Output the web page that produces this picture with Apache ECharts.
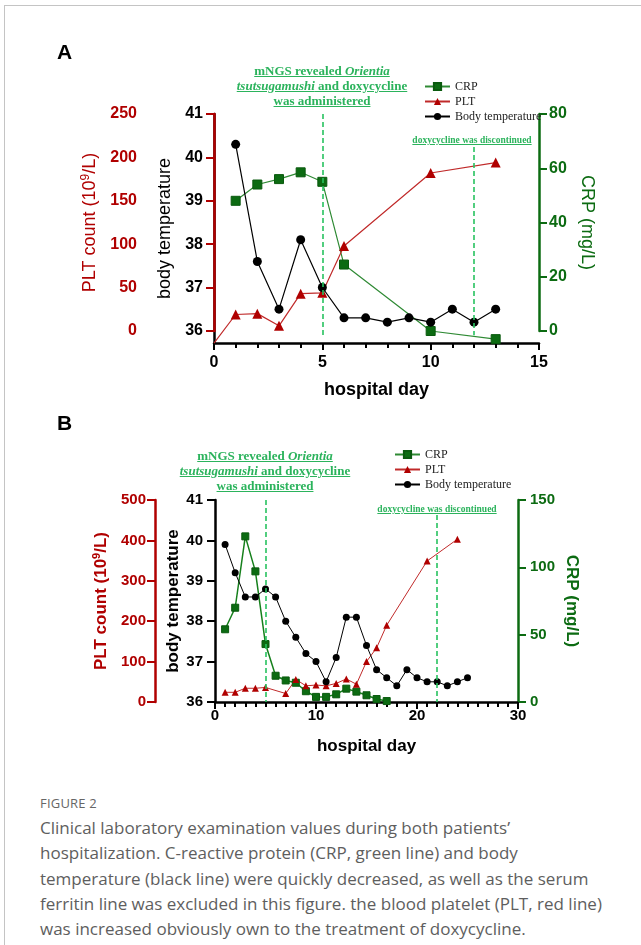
<!DOCTYPE html>
<html>
<head>
<meta charset="utf-8">
<script src="https://cdn.jsdelivr.net/npm/echarts@6/dist/echarts.min.js"></script>
<style>
  body { margin: 0; background: #fff; }
  #wrap { position: relative; width: 641px; height: 945px; overflow: hidden; }
  #frame { position: absolute; left: 4px; top: 5px; width: 700px; height: 1000px;
           border-top: 1px solid #c4c4c4; border-left: 1px solid #c4c4c4; }
  #chart { position: absolute; left: 0; top: 0; width: 641px; height: 790px; }
  .letter { position: absolute; font: bold 21px "Liberation Sans", Arial, sans-serif; color: #000; }
  .note { position: absolute; text-align: center; white-space: nowrap; color: #2bb35c;
          font-family: "Liberation Serif", "Times New Roman", serif; font-weight: bold;
          text-decoration: underline; }
  .big { font-size: 13px; line-height: 15px; width: 240px; }
  .small { font-size: 9.5px; line-height: 12px; width: 200px; }
  #cap { position: absolute; left: 40px; top: 793px; color: #5e5e5e;
         font-family: "Open Sans", Lato, sans-serif; }
  #cap .fig { font-size: 13px; letter-spacing: 0.2px; color: #666; height: 22px; line-height: 20px; }
  #cap .txt { font-size: 17px; line-height: 25.3px; white-space: nowrap; }
</style>
</head>
<body>
<div id="wrap">
  <div id="frame"></div>
  <div id="chart"></div>
  <div class="letter" style="left:57px;top:40px">A</div>
  <div class="letter" style="left:57px;top:411px">B</div>
  <div class="note big" style="left:202px;top:62.5px">mNGS revealed <i>Orientia</i><br><i>tsutsugamushi</i> and doxycycline<br>was administered</div>
  <div class="note small" style="left:372px;top:134px">doxycycline was discontinued</div>
  <div class="note big" style="left:145px;top:447.5px">mNGS revealed <i>Orientia</i><br><i>tsutsugamushi</i> and doxycycline<br>was administered</div>
  <div class="note small" style="left:337px;top:503px">doxycycline was discontinued</div>
  <div id="cap">
    <div class="fig">FIGURE 2</div>
    <div class="txt">Clinical laboratory examination values during both patients’<br>hospitalization. C-reactive protein (CRP, green line) and body<br>temperature (black line) were quickly decreased, as well as the serum<br>ferritin line was excluded in this figure. the blood platelet (PLT, red line)<br>was increased obviously own to the treatment of doxycycline.</div>
  </div>
</div>
<script>
// panel A (patient 1)
var tempDaysA = [1, 2, 3, 4, 5, 6, 7, 8, 9, 10, 11, 12, 13];
var tempA = [40.3, 37.6, 36.5, 38.1, 37.0, 36.3, 36.3, 36.2, 36.3, 36.2, 36.5, 36.2, 36.5];
var pltDaysA = [0, 1, 2, 3, 4, 5, 6, 10, 13];
var pltA = [-14, 19, 20, 6, 43, 44, 98, 182, 194];
var crpDaysA = [1, 2, 3, 4, 5, 6, 10, 13];
var crpA = [48, 54, 56, 58.5, 55, 24.5, 0, -3];

// panel B (patient 2)
var tempDaysB = [1, 2, 3, 4, 5, 6, 7, 8, 9, 10, 11, 12, 13, 14, 15, 16, 17, 18, 19, 20, 21, 22, 23, 24, 25];
var tempB = [39.9, 39.2, 38.6, 38.6, 38.8, 38.6, 38.0, 37.6, 37.2, 37.0, 36.5, 37.1, 38.1, 38.1, 37.4,
             36.8, 36.6, 36.4, 36.8, 36.6, 36.5, 36.5, 36.4, 36.5, 36.6];
var pltDaysB = [1, 2, 3, 4, 5, 7, 8, 9, 10, 11, 12, 13, 14, 15, 16, 17, 21, 24];
var pltB = [24, 24, 34, 34, 36, 21, 56, 40, 42, 40, 46, 57, 44, 100, 134, 190, 349, 403];
var crpDaysB = [1, 2, 3, 4, 5, 6, 7, 8, 9, 10, 11, 12, 13, 14, 15, 16, 17];
var crpB = [54, 70, 123, 97, 43, 19.5, 16, 14.3, 8, 3.8, 3.8, 5.7, 9.9, 7.7, 5, 2.2, 0.7];

// tick labels
var tempTicks = [36, 37, 38, 39, 40, 41];
var dayTicksA = [0, 5, 10, 15];
var dayTicksB = [0, 10, 20, 30];

// treatment days (dashed lines)
var startDayA = 5, stopDayA = 12;
var startDayB = 5, stopDayB = 22;

var RED = '#b00000', GREEN = '#0c6b12', DASH = '#27c25f';
var SANS = '"Liberation Sans", Arial, sans-serif';

function zip(xs, ys) {
  return xs.map(function (x, i) { return [x, ys[i]]; });
}

function xAxisOf(grid, ticks, minorN, fs, gap, margin) {
  return {
    type: 'value', gridIndex: grid,
    min: ticks[0], max: ticks[ticks.length - 1], interval: ticks[1] - ticks[0],
    axisLine: { lineStyle: { color: '#000', width: 2.5 } },
    axisTick: { length: 7, lineStyle: { color: '#000', width: 2 } },
    minorTick: { show: true, splitNumber: minorN, length: 5, lineStyle: { color: '#000', width: 2 } },
    splitLine: { show: false },
    axisLabel: { color: '#000', fontSize: fs, fontWeight: 'bold', fontFamily: SANS, margin: margin },
    name: 'hospital day', nameLocation: 'middle', nameGap: gap,
    nameTextStyle: { color: '#000', fontSize: fs + 2, fontWeight: 'bold', fontFamily: SANS }
  };
}

function yAxisOf(o) {
  var ax = {
    type: 'value', gridIndex: o.grid, position: o.pos, offset: o.offset || 0,
    min: o.min, max: o.max,
    axisLine: { show: true, lineStyle: { color: o.color, width: 2.5 } },
    axisTick: { show: true, length: 8, lineStyle: { color: o.color, width: 2 } },
    splitLine: { show: false },
    axisLabel: { color: o.color, fontSize: o.fs, fontWeight: 'bold', fontFamily: SANS, margin: o.margin },
    name: o.name, nameLocation: 'middle', nameGap: o.gap, nameRotate: o.rot,
    nameTextStyle: { color: o.color, fontSize: o.nfs, fontWeight: o.nw, fontFamily: SANS,
      rich: {
        a: { color: o.color, fontSize: o.nfs, fontWeight: o.nw, fontFamily: SANS, lineHeight: o.nfs + 4 },
        s: { color: o.color, fontSize: o.nfs - 6, fontWeight: o.nw, fontFamily: SANS, lineHeight: o.nfs - 6, verticalAlign: 'top' }
      } }
  };
  if (o.custom) {
    ax.axisLabel.customValues = o.custom;
    ax.axisTick.customValues = o.custom;
  } else {
    ax.interval = o.interval;
  }
  return ax;
}

function dashLines(d1, top1, d2, top2, bottom) {
  return {
    silent: true, symbol: ['none', 'none'], label: { show: false },
    lineStyle: { color: DASH, type: [5, 3], width: 1.6 },
    data: [
      [{ coord: [d1, top1] }, { coord: [d1, bottom] }],
      [{ coord: [d2, top2] }, { coord: [d2, bottom] }]
    ]
  };
}

var pltDataA = zip(pltDaysA, pltA).map(function (p) {
  return p[0] === 0 ? { value: p, symbol: 'none' } : p;
});

var legendBase = {
  orient: 'vertical', padding: 0, itemWidth: 25, itemHeight: 9, itemGap: 2,
  data: ['CRP', 'PLT', 'Body temperature'],
  textStyle: { color: '#222', fontSize: 12, lineHeight: 13, fontFamily: '"Liberation Serif", "Times New Roman", serif' }
};

var chart = echarts.init(document.getElementById('chart'));

var option = {
  animation: false,
  grid: [
    { left: 214, top: 114, width: 325, height: 229 },
    { left: 214, top: 114, width: 325, height: 217 },
    { left: 215, top: 500, width: 303, height: 202 }
  ],
  legend: [
    Object.assign({ left: 424, top: 80 }, legendBase),
    Object.assign({ left: 394, top: 448 }, legendBase)
  ],
  xAxis: [
    xAxisOf(0, dayTicksA, 5, 16, 38, 12),
    { type: 'value', gridIndex: 1, min: 0, max: 15, show: false },
    xAxisOf(2, dayTicksB, 10, 15, 36, 6)
  ],
  yAxis: [
    yAxisOf({ grid: 0, pos: 'left', min: 35.72, max: 41, custom: tempTicks, color: '#000', fs: 16, margin: 11,
              name: 'body temperature', gap: 36, rot: 90, nfs: 18, nw: 'normal' }),
    yAxisOf({ grid: 1, pos: 'left', offset: 66, min: 0, max: 250, interval: 50, color: RED, fs: 16, margin: 11,
              name: '{a|PLT count (10}{s|9}{a|/L)}', gap: 46, rot: 90, nfs: 18, nw: 'normal' }),
    yAxisOf({ grid: 1, pos: 'right', min: 0, max: 80, interval: 20, color: GREEN, fs: 16, margin: 10,
              name: 'CRP (mg/L)', gap: 39, rot: -90, nfs: 18, nw: 'normal' }),
    yAxisOf({ grid: 2, pos: 'left', min: 36, max: 41, interval: 1, color: '#000', fs: 15, margin: 12,
              name: 'body temperature', gap: 33, rot: 90, nfs: 17, nw: 'bold' }),
    yAxisOf({ grid: 2, pos: 'left', offset: 60, min: 0, max: 500, interval: 100, color: RED, fs: 15, margin: 9,
              name: '{a|PLT count (10}{s|9}{a|/L)}', gap: 43, rot: 90, nfs: 17, nw: 'bold' }),
    yAxisOf({ grid: 2, pos: 'right', min: 0, max: 150, interval: 50, color: GREEN, fs: 15, margin: 12,
              name: 'CRP (mg/L)', gap: 45, rot: -90, nfs: 17, nw: 'bold' })
  ],
  series: [
    { name: 'CRP', type: 'line', xAxisIndex: 1, yAxisIndex: 2, clip: false,
      data: zip(crpDaysA, crpA), symbol: 'rect', symbolSize: 9,
      lineStyle: { color: '#2f8a34', width: 1.2 }, itemStyle: { color: '#0c6b12', borderColor: '#0a5a0e', borderWidth: 1 } },
    { name: 'PLT', type: 'line', xAxisIndex: 1, yAxisIndex: 1, clip: false,
      data: pltDataA, symbol: 'triangle', symbolSize: 10,
      lineStyle: { color: '#c02a2a', width: 1.2 }, itemStyle: { color: RED } },
    { name: 'Body temperature', type: 'line', xAxisIndex: 0, yAxisIndex: 0, clip: false,
      data: zip(tempDaysA, tempA), symbol: 'circle', symbolSize: 9,
      lineStyle: { color: '#000', width: 1.2 }, itemStyle: { color: '#000' },
      markLine: dashLines(startDayA, 41, stopDayA, 40.24, 35.9) },

    { name: 'CRP', type: 'line', xAxisIndex: 2, yAxisIndex: 5,
      data: zip(crpDaysB, crpB), symbol: 'rect', symbolSize: 7,
      lineStyle: { color: '#16801c', width: 1.5 }, itemStyle: { color: '#0c6b12', borderColor: '#0a5a0e', borderWidth: 1 } },
    { name: 'PLT', type: 'line', xAxisIndex: 2, yAxisIndex: 4,
      data: zip(pltDaysB, pltB), symbol: 'triangle', symbolSize: 7,
      lineStyle: { color: '#c02a2a', width: 1 }, itemStyle: { color: RED } },
    { name: 'Body temperature', type: 'line', xAxisIndex: 2, yAxisIndex: 3,
      data: zip(tempDaysB, tempB), symbol: 'circle', symbolSize: 7,
      lineStyle: { color: '#000', width: 1 }, itemStyle: { color: '#000' },
      markLine: dashLines(startDayB, 41, stopDayB, 40.63, 36) }
  ]
};

chart.setOption(option);
</script>
</body>
</html>
